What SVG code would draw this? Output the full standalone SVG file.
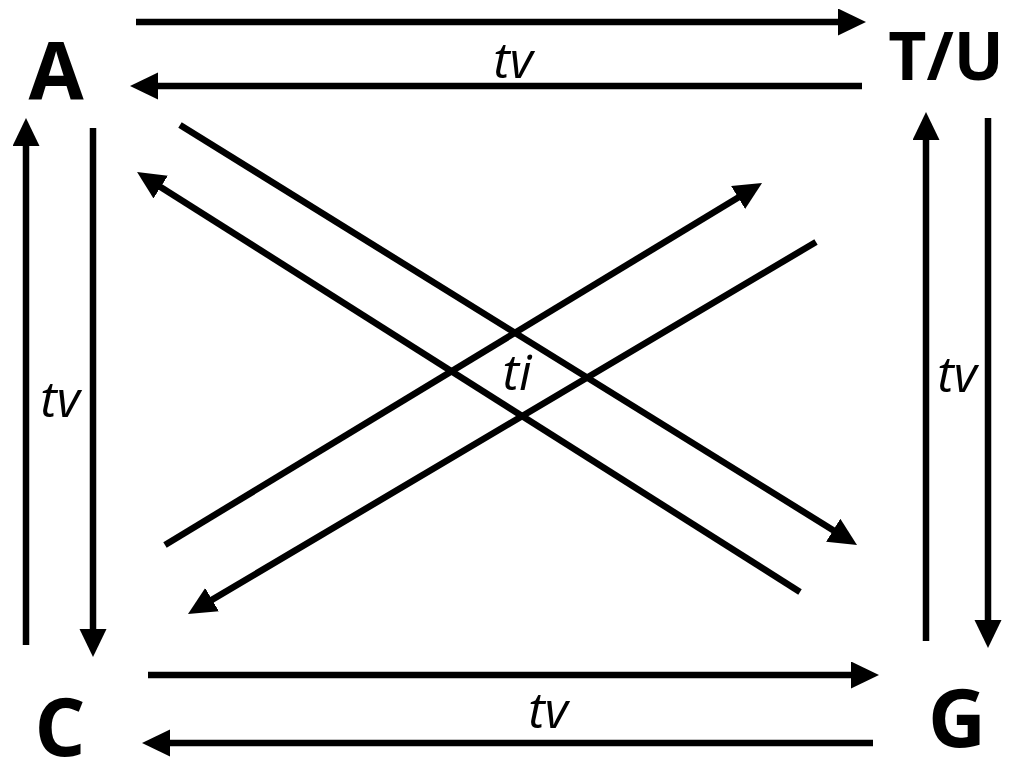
<svg xmlns="http://www.w3.org/2000/svg" width="1013" height="759" viewBox="0 0 1013 759">
<style>
.c{stroke:#000;stroke-width:6.5;fill:none;marker-end:url(#ah)}
.n{font-family:"Open Sans","Liberation Sans",sans-serif;font-weight:bold;fill:#000;text-anchor:middle}
.l{font-family:"Open Sans","Liberation Sans",sans-serif;font-style:italic;font-size:50px;fill:#000;text-anchor:middle}
</style>
<defs>
<marker id="ah" markerUnits="userSpaceOnUse" markerWidth="30" markerHeight="30" refX="18" refY="13.5" orient="auto" viewBox="0 0 30 30">
<path d="M0,0 L28,13.5 L0,27 z" fill="#000"/>
</marker>
</defs>
<rect width="1013" height="759" fill="#fff"/>
<g id="connectors">
<line class="c" x1="136" y1="22" x2="856" y2="22"/>
<line class="c" x1="862" y1="86" x2="140" y2="86"/>
<line class="c" x1="26" y1="645" x2="26" y2="128"/>
<line class="c" x1="93" y1="128" x2="93" y2="647"/>
<line class="c" x1="926" y1="641" x2="926" y2="122"/>
<line class="c" x1="988" y1="118" x2="988" y2="638"/>
<line class="c" x1="148" y1="675" x2="869" y2="675"/>
<line class="c" x1="873" y1="743" x2="152" y2="743"/>
<line class="c" x1="180" y1="125" x2="848.5" y2="539.7"/>
<line class="c" x1="800" y1="592" x2="145.5" y2="177.4"/>
<line class="c" x1="165" y1="545" x2="753.5" y2="188.2"/>
<line class="c" x1="816" y1="242" x2="196.6" y2="608.9"/>
<text class="l" x="513" y="78">tv</text>
<text class="l" x="60" y="417">tv</text>
<text class="l" x="957" y="392">tv</text>
<text class="l" x="517" y="390">ti</text>
<text class="l" x="548" y="728">tv</text>
</g>
<g id="A"><text class="n" x="56" y="100" font-size="80">A</text></g>
<g id="TU"><text class="n" x="946" y="80" font-size="66">T/U</text></g>
<g id="C"><text class="n" x="60" y="756" font-size="80">C</text></g>
<g id="G"><text class="n" x="957" y="747" font-size="80">G</text></g>
</svg>
